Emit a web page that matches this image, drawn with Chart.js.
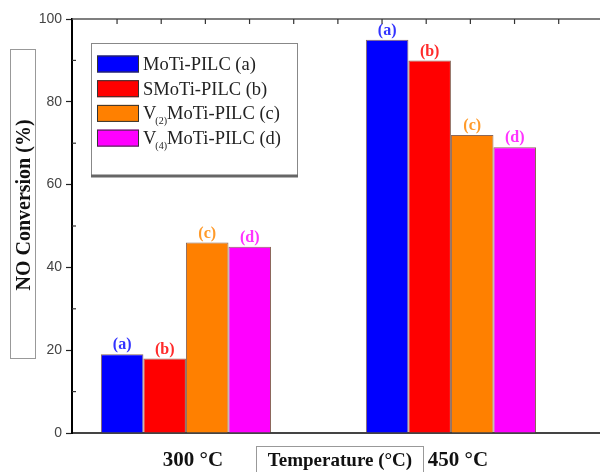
<!DOCTYPE html>
<html>
<head>
<meta charset="utf-8">
<script src="https://cdn.jsdelivr.net/npm/chart.js@4.4.1/dist/chart.umd.min.js"></script>
<style>
  html, body { margin: 0; padding: 0; background: #fff; }
  #wrap { width: 600px; height: 472px; position: relative; }
</style>
</head>
<body>
<div id="wrap"><canvas id="chart"></canvas></div>
<script>
// Данные
const categories = ['300 °C', '450 °C'];
const seriesNames = ['MoTi-PILC (a)', 'SMoTi-PILC (b)', 'V_{(2)}MoTi-PILC (c)', 'V_{(4)}MoTi-PILC (d)'];
const seriesTags = ['(a)', '(b)', '(c)', '(d)'];
const moTi = [19, 95];
const sMoTi = [18, 90];
const v2MoTi = [46, 72];
const v4MoTi = [45, 69];
const yTicks = [0, 20, 40, 60, 80, 100];

const barColors = ['#0000ff', '#ff0000', '#ff8000', '#ff00ff'];
const tagColors = ['#3333ff', '#ff2a2a', '#ff9a2a', '#ff33ff'];
const serif = '"Liberation Serif", "Times New Roman", serif';

const allSeries = [moTi, sMoTi, v2MoTi, v4MoTi];

// Подписи над столбцами
const tagPlugin = {
    id: 'tags',
    afterDatasetsDraw(chart) {
        const ctx = chart.ctx;
        ctx.save();
        ctx.font = 'bold 16px ' + serif;
        ctx.textAlign = 'center';
        ctx.textBaseline = 'bottom';
        chart.data.datasets.forEach((ds, i) => {
            chart.getDatasetMeta(i).data.forEach(bar => {
                ctx.fillStyle = tagColors[i];
                ctx.fillText(seriesTags[i], bar.x, bar.y - 1);
            });
        });
        ctx.restore();
    }
};

// Рамка сверху и мелкие штрихи
const framePlugin = {
    id: 'frame',
    afterDraw(chart) {
        const ctx = chart.ctx;
        const a = chart.chartArea;
        const xs = chart.scales.x;
        const ys = chart.scales.y;
        ctx.save();
        ctx.strokeStyle = '#555';
        ctx.lineWidth = 1.5;
        ctx.beginPath();
        ctx.moveTo(a.left, a.top);
        ctx.lineTo(a.right, a.top);
        ctx.stroke();
        ctx.lineWidth = 1.2;
        ctx.strokeStyle = '#333';
        for (let v = 0.74; v < xs.max; v += 1 / 6) {
            const px = xs.getPixelForValue(v);
            ctx.beginPath();
            ctx.moveTo(px, a.top);
            ctx.lineTo(px, a.top + 5);
            ctx.stroke();
        }
        for (let v = 10; v < 100; v += 20) {
            const py = ys.getPixelForValue(v);
            ctx.beginPath();
            ctx.moveTo(a.left, py);
            ctx.lineTo(a.left + 4, py);
            ctx.stroke();
        }
        ctx.restore();
    }
};

// Легенда и подписи осей в рамках
const boxPlugin = {
    id: 'boxes',
    afterDraw(chart) {
        const ctx = chart.ctx;
        ctx.save();

        // легенда
        ctx.fillStyle = '#fff';
        ctx.fillRect(91, 43, 207, 134);
        ctx.strokeStyle = '#888';
        ctx.lineWidth = 1;
        ctx.strokeRect(91.5, 43.5, 206, 133);
        ctx.strokeStyle = '#666';
        ctx.lineWidth = 3;
        ctx.beginPath();
        ctx.moveTo(91, 176);
        ctx.lineTo(298, 176);
        ctx.stroke();

        seriesNames.forEach((name, i) => {
            const cy = 64 + i * 24.7;
            ctx.fillStyle = barColors[i];
            ctx.fillRect(97, cy - 8.5, 42, 17);
            ctx.strokeStyle = '#333';
            ctx.lineWidth = 1;
            ctx.strokeRect(97.5, cy - 8, 41, 16);

            ctx.fillStyle = '#222';
            ctx.textBaseline = 'middle';
            ctx.textAlign = 'left';
            let x = 143;
            const parts = name.split(/_\{(.*?)\}/);
            parts.forEach((p, k) => {
                if (k % 2 === 1) {
                    ctx.font = '10px ' + serif;
                    ctx.fillText(p, x - 1, cy + 8);
                    x += ctx.measureText(p).width - 1;
                } else {
                    ctx.font = '18.5px ' + serif;
                    ctx.fillText(p, x, cy + 1);
                    x += ctx.measureText(p).width;
                }
            });
        });

        // подпись оси Y
        ctx.strokeStyle = '#999';
        ctx.lineWidth = 1;
        ctx.strokeRect(10.5, 49.5, 25, 309);
        ctx.save();
        ctx.translate(24, 205);
        ctx.rotate(-Math.PI / 2);
        ctx.fillStyle = '#111';
        ctx.font = 'bold 20px ' + serif;
        ctx.textAlign = 'center';
        ctx.textBaseline = 'middle';
        ctx.fillText('NO Conversion (%)', 0, 1);
        ctx.restore();

        // подпись оси X
        ctx.strokeStyle = '#999';
        ctx.strokeRect(256.5, 446.5, 167, 40);
        ctx.fillStyle = '#111';
        ctx.font = 'bold 19px ' + serif;
        ctx.textAlign = 'center';
        ctx.textBaseline = 'middle';
        ctx.fillText('Temperature (°C)', 340, 461);

        ctx.restore();
    }
};

const datasets = allSeries.map((vals, i) => ({
    label: seriesNames[i],
    data: vals.map((v, k) => ({ x: k + 1, y: v })),
    backgroundColor: barColors[i],
    borderColor: 'rgba(90, 40, 20, 0.7)',
    borderWidth: 1,
    categoryPercentage: 0.642,
    barPercentage: 1.0
}));

new Chart(document.getElementById('chart'), {
    type: 'bar',
    data: { datasets: datasets },
    options: {
        responsive: true,
        maintainAspectRatio: false,
        animation: false,
        layout: { padding: { top: 19, right: 0, left: 0, bottom: 0 } },
        plugins: {
            legend: { display: false },
            tooltip: { enabled: false }
        },
        scales: {
            x: {
                type: 'linear',
                offset: false,
                min: 0.57,
                max: 2.5625,
                grid: { display: false },
                border: { display: true, color: '#444', width: 2 },
                ticks: {
                    stepSize: 1,
                    includeBounds: false,
                    autoSkip: false,
                    maxRotation: 0,
                    padding: 7,
                    labelOffset: 7,
                    color: '#111',
                    font: { family: serif, size: 21, weight: 'bold' },
                    callback: v => categories[v - 1] || ''
                },
                afterFit: s => { s.height = 39; }
            },
            y: {
                min: yTicks[0],
                max: yTicks[yTicks.length - 1],
                grid: { drawOnChartArea: false, drawTicks: true, tickLength: 6, tickColor: '#222', tickWidth: 1.2 },
                border: { display: true, color: '#000', width: 2 },
                ticks: {
                    stepSize: 20,
                    padding: 4,
                    color: '#444',
                    font: { family: '"Liberation Sans", Arial, sans-serif', size: 14 }
                },
                afterFit: s => { s.width = 72; }
            }
        }
    },
    plugins: [tagPlugin, framePlugin, boxPlugin]
});
</script>
</body>
</html>
